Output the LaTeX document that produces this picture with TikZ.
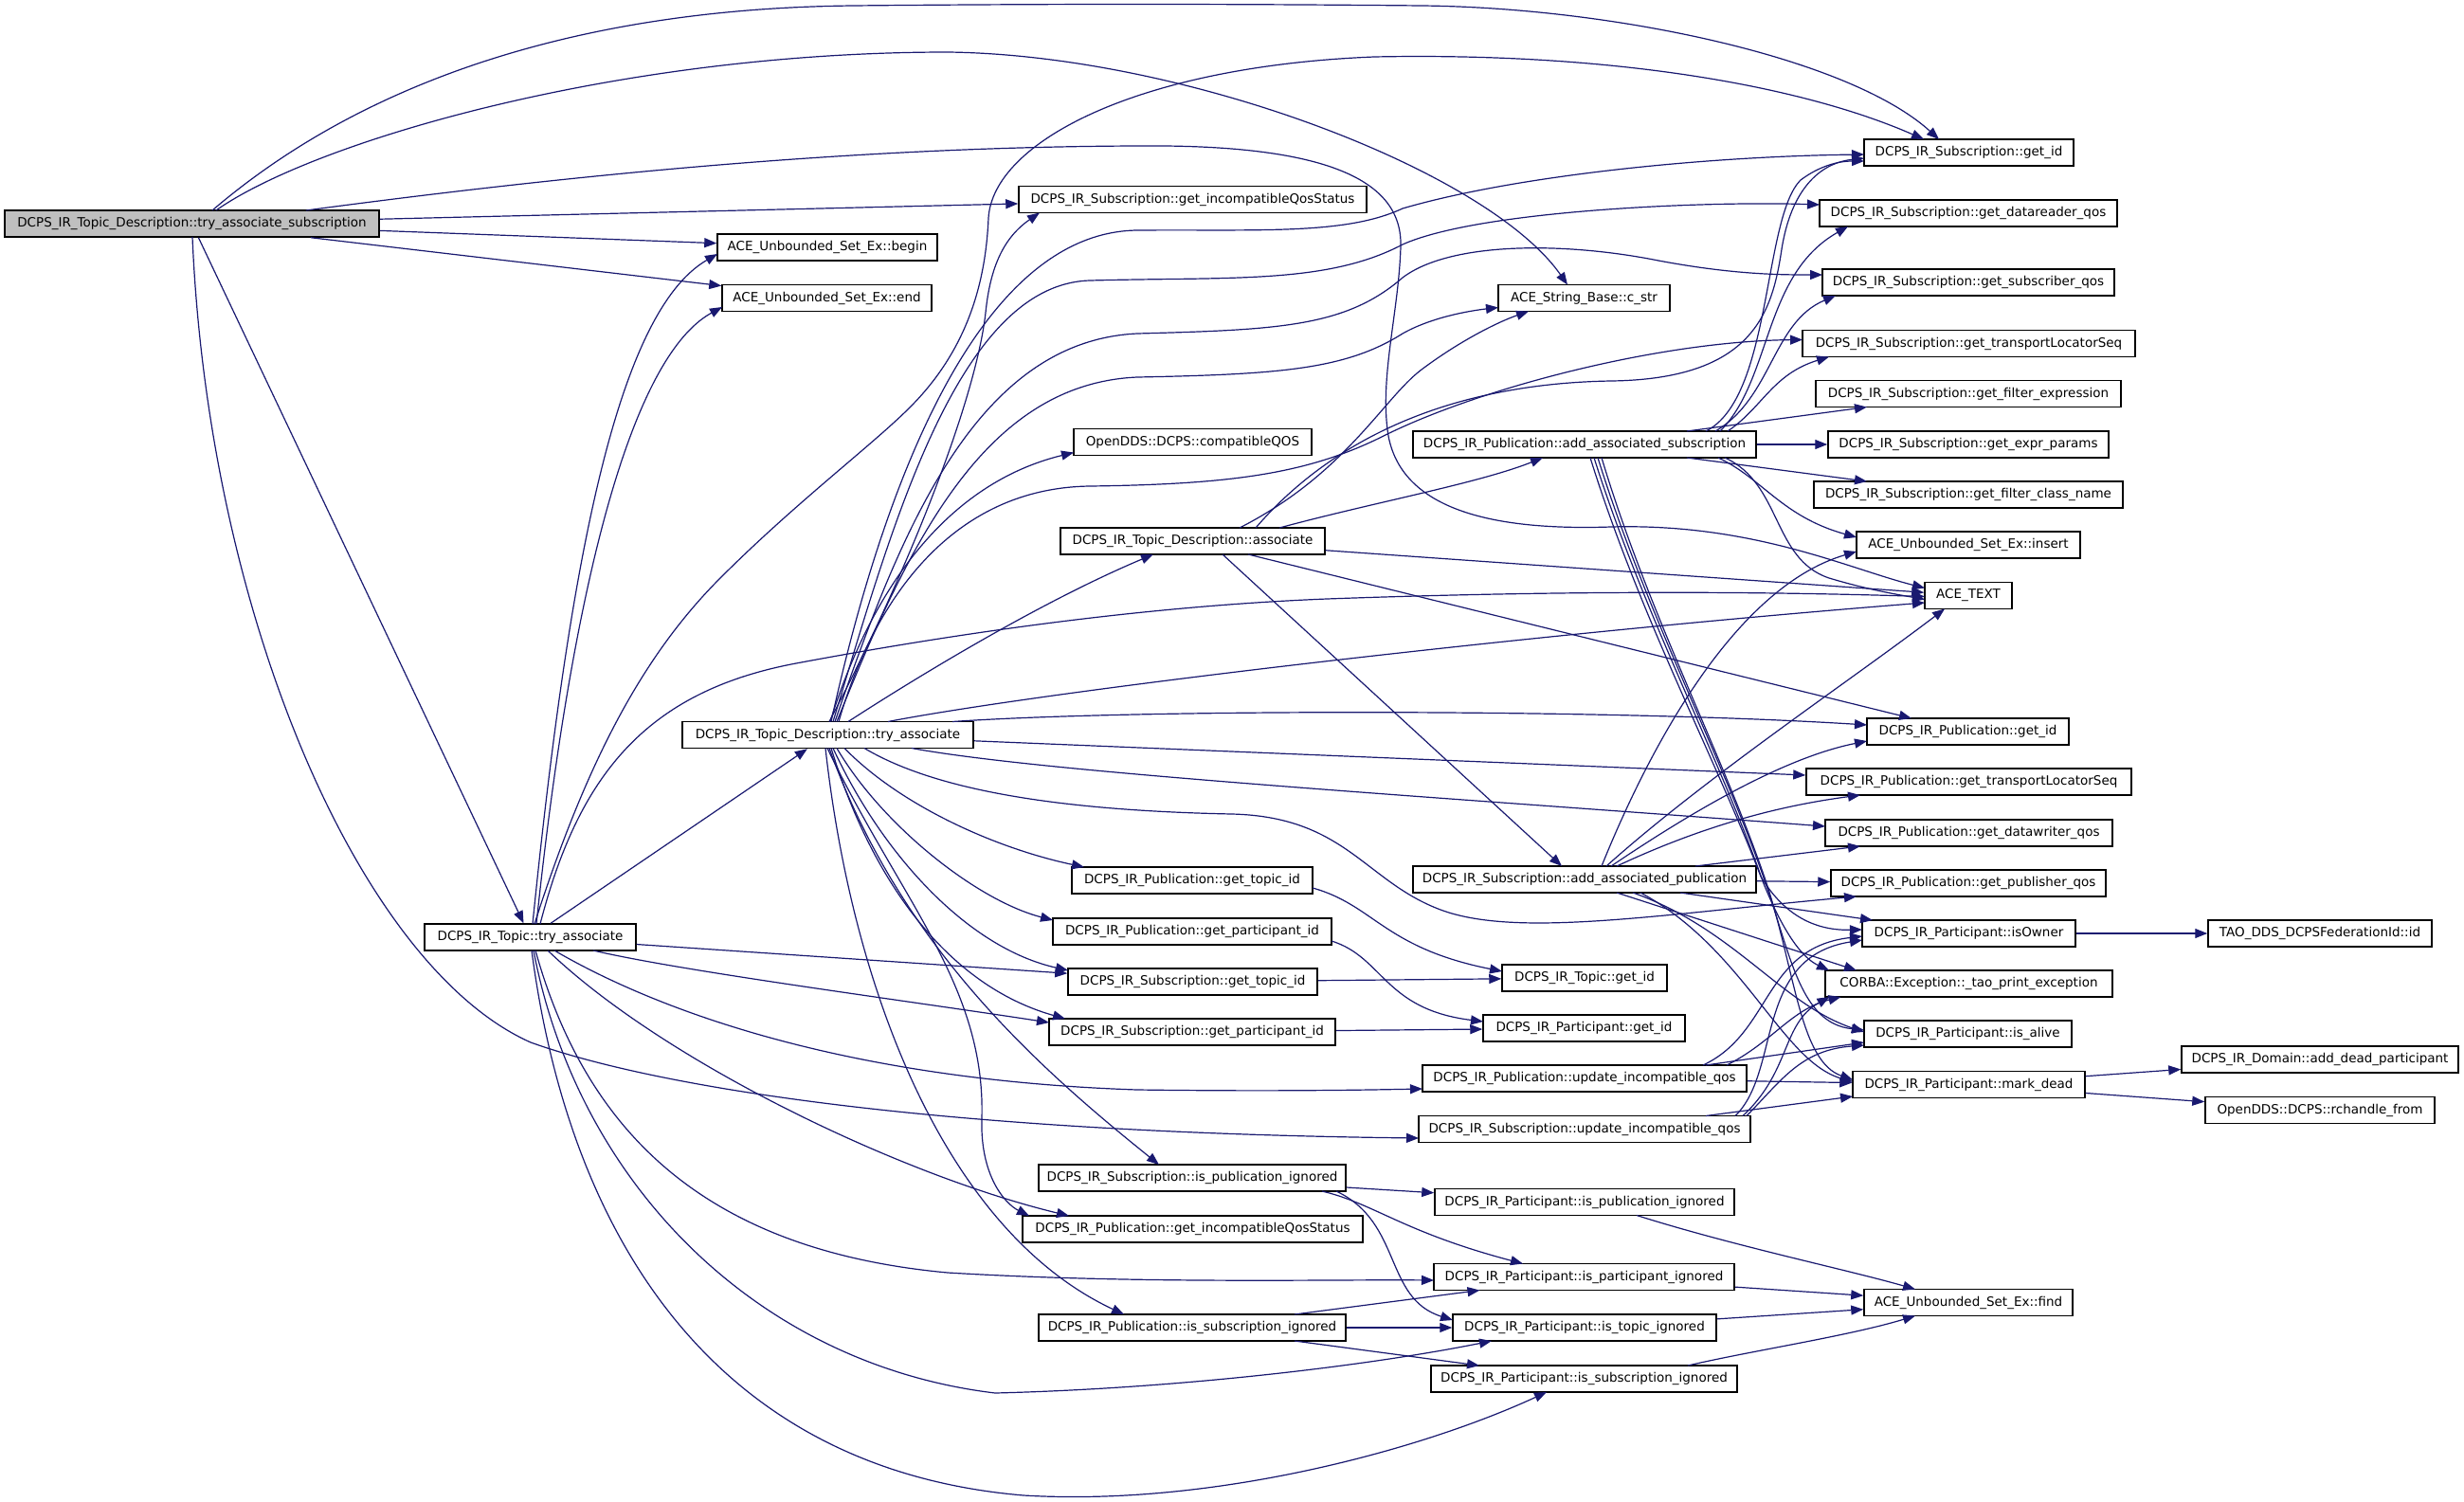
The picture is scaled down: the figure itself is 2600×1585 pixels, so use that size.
\documentclass[tikz,border=0pt]{standalone}
\usepackage{fontspec}
\setmainfont{DejaVu Sans}
\usetikzlibrary{arrows.meta,calc}
\definecolor{edgec}{HTML}{191970}
\definecolor{rootc}{HTML}{BFBFBF}
\tikzset{
  box/.style={draw=black, line width=1.5pt, fill=white, minimum height=28pt, inner sep=0pt, font=\fontsize{13.5}{16}\selectfont},
  edge/.style={draw=edgec, line width=1.2pt, line join=round, -{Triangle[length=13pt,width=10pt]}}
}
\begin{document}
\begin{tikzpicture}[x=1pt,y=-1pt]
\useasboundingbox (0,0) rectangle (2600,1585);
\fill[white] (0,0) rectangle (2600,1585);
% nodes
\node[box,fill=rootc,minimum width=395pt] (R) at (202.5,236) {DCPS\_IR\_Topic\_Description::try\_associate\_subscription};
\node[box,minimum width=367pt] (SGIQ) at (1258.5,210.5) {DCPS\_IR\_Subscription::get\_incompatibleQosStatus};
\node[box,minimum width=232pt] (BEGIN) at (873,261) {ACE\_Unbounded\_Set\_Ex::begin};
\node[box,minimum width=221pt] (END) at (872.5,314.5) {ACE\_Unbounded\_Set\_Ex::end};
\node[box,minimum width=221pt] (SGID) at (2077.5,161) {DCPS\_IR\_Subscription::get\_id};
\node[box,minimum width=314pt] (SDRQ) at (2077,225) {DCPS\_IR\_Subscription::get\_datareader\_qos};
\node[box,minimum width=308pt] (SSQ) at (2077,298) {DCPS\_IR\_Subscription::get\_subscriber\_qos};
\node[box,minimum width=181pt] (CSTR) at (1671.5,314.5) {ACE\_String\_Base::c\_str};
\node[box,minimum width=351pt] (STLS) at (2077.5,362.5) {DCPS\_IR\_Subscription::get\_transportLocatorSeq};
\node[box,minimum width=322pt] (SFE) at (2077,415.5) {DCPS\_IR\_Subscription::get\_filter\_expression};
\node[box,minimum width=362pt] (AS) at (1672,469) {DCPS\_IR\_Publication::add\_associated\_subscription};
\node[box,minimum width=296pt] (SEP) at (2077,469) {DCPS\_IR\_Subscription::get\_expr\_params};
\node[box,minimum width=251pt] (CQ) at (1258.5,466.5) {OpenDDS::DCPS::compatibleQOS};
\node[box,minimum width=326pt] (SFCN) at (2077,522) {DCPS\_IR\_Subscription::get\_filter\_class\_name};
\node[box,minimum width=279pt] (AC) at (1258.5,571) {DCPS\_IR\_Topic\_Description::associate};
\node[box,minimum width=236pt] (INS) at (2077,575) {ACE\_Unbounded\_Set\_Ex::insert};
\node[box,minimum width=92pt] (TEXT) at (2077,628.5) {ACE\_TEXT};
\node[box,minimum width=307pt] (TA) at (873.5,775.5) {DCPS\_IR\_Topic\_Description::try\_associate};
\node[box,minimum width=213pt] (PGID) at (2076.5,772) {DCPS\_IR\_Publication::get\_id};
\node[box,minimum width=343pt] (PTLS) at (2077.5,825) {DCPS\_IR\_Publication::get\_transportLocatorSeq};
\node[box,minimum width=303pt] (PDWQ) at (2077.5,879) {DCPS\_IR\_Publication::get\_datawriter\_qos};
\node[box,minimum width=362pt] (AP) at (1672,928) {DCPS\_IR\_Subscription::add\_associated\_publication};
\node[box,minimum width=254pt] (PGTI) at (1258,929) {DCPS\_IR\_Publication::get\_topic\_id};
\node[box,minimum width=290pt] (PPQ) at (2077,932) {DCPS\_IR\_Publication::get\_publisher\_qos};
\node[box,minimum width=294pt] (PGPI) at (1258,983) {DCPS\_IR\_Publication::get\_participant\_id};
\node[box,minimum width=223pt] (T) at (559.5,989) {DCPS\_IR\_Topic::try\_associate};
\node[box,minimum width=225pt] (ISOWN) at (2077.5,985) {DCPS\_IR\_Participant::isOwner};
\node[box,minimum width=236pt] (TAO) at (2448,985) {TAO\_DDS\_DCPSFederationId::id};
\node[box,minimum width=263pt] (SGTI) at (1258.5,1036) {DCPS\_IR\_Subscription::get\_topic\_id};
\node[box,minimum width=174pt] (TGID) at (1672,1032) {DCPS\_IR\_Topic::get\_id};
\node[box,minimum width=303pt] (CORBA) at (2077.5,1038) {CORBA::Exception::\_tao\_print\_exception};
\node[box,minimum width=302pt] (SGPI) at (1258,1089) {DCPS\_IR\_Subscription::get\_participant\_id};
\node[box,minimum width=213pt] (PAGID) at (1671.5,1085) {DCPS\_IR\_Participant::get\_id};
\node[box,minimum width=219pt] (ALIVE) at (2076.5,1091) {DCPS\_IR\_Participant::is\_alive};
\node[box,minimum width=292pt] (DEADP) at (2448,1118) {DCPS\_IR\_Domain::add\_dead\_participant};
\node[box,minimum width=342pt] (PU) at (1672,1138) {DCPS\_IR\_Publication::update\_incompatible\_qos};
\node[box,minimum width=245pt] (MD) at (2077.5,1144.5) {DCPS\_IR\_Participant::mark\_dead};
\node[box,minimum width=242pt] (RCH) at (2448,1171.5) {OpenDDS::DCPS::rchandle\_from};
\node[box,minimum width=350pt] (SU) at (1672,1191.5) {DCPS\_IR\_Subscription::update\_incompatible\_qos};
\node[box,minimum width=324pt] (SPI) at (1258,1243) {DCPS\_IR\_Subscription::is\_publication\_ignored};
\node[box,minimum width=316pt] (PAPI) at (1672,1268.5) {DCPS\_IR\_Participant::is\_publication\_ignored};
\node[box,minimum width=359pt] (PGIQ) at (1258.5,1297) {DCPS\_IR\_Publication::get\_incompatibleQosStatus};
\node[box,minimum width=317pt] (PAPAI) at (1671.5,1347.5) {DCPS\_IR\_Participant::is\_participant\_ignored};
\node[box,minimum width=220pt] (FIND) at (2077,1374.5) {ACE\_Unbounded\_Set\_Ex::find};
\node[box,minimum width=324pt] (PSI) at (1258,1401) {DCPS\_IR\_Publication::is\_subscription\_ignored};
\node[box,minimum width=278pt] (PATI) at (1672,1401) {DCPS\_IR\_Participant::is\_topic\_ignored};
\node[box,minimum width=323pt] (PASI) at (1671.5,1455) {DCPS\_IR\_Participant::is\_subscription\_ignored};
% edges from root
\draw[edge] ($(R)+(21.5,-14)$) .. controls (320,140) and (520,10) .. (900,6) .. controls (1100,4) and (1300,4) .. (1500,6) .. controls (1700,8) and (1950,60) .. ($(SGID)+(-31.5,-14)$);
\draw[edge] ($(R)+(25.5,-14)$) .. controls (330,150) and (650,55) .. (1000,55) .. controls (1250,58) and (1570,180) .. ($(CSTR)+(-17.5,-14)$);
\draw[edge] ($(R)+(120.5,-14)$) .. controls (600,185) and (900,155) .. (1200,154) .. controls (1400,152) and (1480,190) .. (1478,260) .. controls (1476,330) and (1455,400) .. (1465,460) .. controls (1480,540) and (1580,560) .. (1700,556) .. controls (1850,552) and (1950,600) .. ($(TEXT)+(-46,-8)$);
\draw[edge] (R) -- (SGIQ);
\draw[edge] (R) -- (BEGIN);
\draw[edge] (R) -- (END);
\draw[edge] (R) -- (T);
\draw[edge] ($(R)+(0.5,14)$) .. controls (220,650) and (380,1020) .. (560,1100) .. controls (700,1150) and (1000,1195) .. ($(SU)+(-175,9.5)$);
% edges from Topic::try_associate
\draw[edge] (T) -- (TA);
\draw[edge] ($(T)+(2.5,-14)$) .. controls (600,600) and (650,330) .. ($(BEGIN)+(-116,7)$);
\draw[edge] ($(T)+(6.5,-14)$) .. controls (600,650) and (660,380) .. ($(END)+(-110.5,9.5)$);
\draw[edge] ($(T)+(10.5,-14)$) .. controls (610,820) and (680,730) .. (840,700) .. controls (1000,670) and (1200,640) .. (1400,632) .. controls (1650,623) and (1850,624) .. ($(TEXT)+(-46,1)$);
\draw[edge] ($(T)+(4.5,-14)$) .. controls (620,800) and (680,690) .. (760,610) .. controls (840,530) and (920,470) .. (960,430) .. controls (1020,370) and (1040,300) .. (1043,230) .. controls (1048,150) and (1200,70) .. (1450,60) .. controls (1700,55) and (1900,90) .. ($(SGID)+(-47.5,-14)$);
\draw[edge] ($(T)+(25.5,14)$) .. controls (700,1070) and (900,1140) .. (1200,1150) .. controls (1350,1152) and (1450,1150) .. ($(PU)+(-171,11)$);
\draw[edge] (T) -- (SGTI);
\draw[edge] ($(T)+(66.5,14)$) .. controls (720,1025) and (950,1055) .. ($(SGPI)+(-151,-10)$);
\draw[edge] ($(T)+(18.5,14)$) .. controls (700,1120) and (950,1240) .. ($(PGIQ)+(-130.5,-14)$);
\draw[edge] ($(T)+(5.5,14)$) .. controls (620,1200) and (750,1320) .. (1000,1343) .. controls (1200,1355) and (1400,1350) .. ($(PAPAI)+(-158.5,3.5)$);
\draw[edge] ($(T)+(3.5,14)$) .. controls (610,1250) and (800,1440) .. (1050,1470) .. controls (1250,1465) and (1450,1440) .. ($(PATI)+(-98,14)$);
\draw[edge] ($(T)+(1.5,14)$) .. controls (600,1300) and (750,1550) .. (1080,1578) .. controls (1280,1590) and (1500,1530) .. ($(PASI)+(-39.5,14)$);
% edges from TopicDescription::try_associate
\draw[edge] ($(TA)+(1.5,-14)$) .. controls (960,600) and (1030,420) .. (1040,330) .. controls (1045,280) and (1060,250) .. ($(SGIQ)+(-161.5,14)$);
\draw[edge] ($(TA)+(3.5,-14)$) .. controls (930,520) and (1030,245) .. (1200,243) .. controls (1330,242) and (1420,248) .. (1480,220) .. controls (1600,185) and (1800,165) .. ($(SGID)+(-110.5,2)$);
\draw[edge] ($(TA)+(5.5,-14)$) .. controls (940,560) and (1010,300) .. (1150,296) .. controls (1300,292) and (1400,300) .. (1480,258) .. controls (1560,222) and (1800,212) .. ($(SDRQ)+(-157,-9)$);
\draw[edge] ($(TA)+(7.5,-14)$) .. controls (950,560) and (1030,360) .. (1200,352) .. controls (1350,348) and (1420,345) .. (1480,293) .. controls (1530,255) and (1650,255) .. (1750,275) .. controls (1830,290) and (1880,290) .. ($(SSQ)+(-154,-8)$);
\draw[edge] ($(TA)+(9.5,-14)$) .. controls (960,570) and (1040,405) .. (1200,398) .. controls (1350,395) and (1420,390) .. (1480,352) .. controls (1510,335) and (1550,328) .. ($(CSTR)+(-90.5,10)$);
\draw[edge] ($(TA)+(11.5,-14)$) .. controls (920,640) and (1000,515) .. (1150,513) .. controls (1300,511) and (1380,500) .. (1460,460) .. controls (1560,410) and (1750,360) .. ($(STLS)+(-175.5,-4)$);
\draw[edge] ($(TA)+(2.5,-14)$) .. controls (920,620) and (1000,510) .. ($(CQ)+(-125.5,11)$);
\draw[edge] ($(TA)+(21.5,-14)$) .. controls (990,700) and (1110,630) .. ($(AC)+(-41.5,14)$);
\draw[edge] ($(TA)+(63.5,-14)$) .. controls (1100,730) and (1600,670) .. ($(TEXT)+(-46,7.5)$);
\draw[edge] ($(TA)+(131.5,-14)$) .. controls (1200,748) and (1700,748) .. ($(PGID)+(-106.5,-7)$);
\draw[edge] (TA) -- (PTLS);
\draw[edge] ($(TA)+(88.5,14)$) .. controls (1100,815) and (1500,840) .. ($(PDWQ)+(-151.5,-7)$);
\draw[edge] ($(TA)+(38.5,14)$) .. controls (980,830) and (1100,855) .. (1300,859) .. controls (1420,862) and (1440,930) .. (1520,960) .. controls (1600,990) and (1750,965) .. ($(PPQ)+(-118,14)$);
\draw[edge] ($(TA)+(17.5,14)$) .. controls (950,850) and (1050,895) .. ($(PGTI)+(-114,-14)$);
\draw[edge] ($(TA)+(9.5,14)$) .. controls (930,870) and (1030,950) .. ($(PGPI)+(-147,-12)$);
\draw[edge] ($(TA)+(5.5,14)$) .. controls (930,900) and (1020,1000) .. ($(SGTI)+(-131.5,-12)$);
\draw[edge] ($(TA)+(3.5,14)$) .. controls (920,930) and (1000,1040) .. ($(SGPI)+(-134,-14)$);
\draw[edge] ($(TA)+(1.5,14)$) .. controls (950,1000) and (1100,1130) .. ($(SPI)+(-35,-14)$);
\draw[edge] ($(TA)+(-0.5,14)$) .. controls (950,950) and (1040,1040) .. (1036,1180) .. controls (1034,1240) and (1060,1270) .. ($(PGIQ)+(-172.5,-14)$);
\draw[edge] ($(TA)+(-2.5,14)$) .. controls (900,1050) and (1000,1300) .. ($(PSI)+(-72,-14)$);
% edges from associate
\draw[edge] ($(AC)+(49.5,-14)$) .. controls (1420,500) and (1460,420) .. (1500,390) .. controls (1540,360) and (1580,340) .. ($(CSTR)+(-58.5,14)$);
\draw[edge] ($(AC)+(66.5,-14)$) .. controls (1400,470) and (1520,405) .. (1700,402) .. controls (1850,400) and (1870,330) .. (1880,263) .. controls (1890,200) and (1920,172) .. ($(SGID)+(-110.5,6)$);
\draw[edge] ($(AC)+(91.5,-14)$) .. controls (1450,530) and (1560,510) .. ($(AS)+(-44,14)$);
\draw[edge] (AC) -- (TEXT);
\draw[edge] ($(AC)+(58.5,14)$) -- ($(PGID)+(-59.5,-14)$);
\draw[edge] ($(AC)+(31.5,14)$) -- ($(AP)+(-24,-14)$);
% edges from add_associated_subscription
\draw[edge] ($(AS)+(128,-14)$) .. controls (1870,420) and (1860,230) .. (1900,190) .. controls (1920,175) and (1940,170) .. ($(SGID)+(-110.5,9)$);
\draw[edge] ($(AS)+(143,-14)$) .. controls (1870,400) and (1860,290) .. ($(SDRQ)+(-127,14)$);
\draw[edge] ($(AS)+(138,-14)$) .. controls (1870,420) and (1870,340) .. ($(SSQ)+(-140,14)$);
\draw[edge] ($(AS)+(151,-14)$) .. controls (1860,430) and (1870,395) .. ($(STLS)+(-147.5,14)$);
\draw[edge] ($(AS)+(108,-14)$) -- ($(SFE)+(-107,14)$);
\draw[edge] (AS) -- (SEP);
\draw[edge] ($(AS)+(108,14)$) -- ($(SFCN)+(-107,-14)$);
\draw[edge] ($(AS)+(141,14)$) .. controls (1860,505) and (1880,545) .. ($(INS)+(-118,-8)$);
\draw[edge] ($(AS)+(148,14)$) .. controls (1880,510) and (1870,590) .. (1930,610) .. controls (1970,622) and (2000,627) .. ($(TEXT)+(-46,4)$);
\draw[edge] ($(AS)+(6,14)$) .. controls (1730,650) and (1810,800) .. (1858,925) .. controls (1885,970) and (1920,982) .. ($(ISOWN)+(-112.5,-4)$);
\draw[edge] ($(AS)+(10,14)$) .. controls (1735,650) and (1815,800) .. (1860,930) .. controls (1880,980) and (1900,1010) .. ($(CORBA)+(-147.5,-14)$);
\draw[edge] ($(AS)+(14,14)$) .. controls (1738,650) and (1818,800) .. (1863,932) .. controls (1890,1010) and (1900,1080) .. ($(ALIVE)+(-109.5,-4)$);
\draw[edge] ($(AS)+(18,14)$) .. controls (1740,650) and (1820,800) .. (1865,935) .. controls (1895,1030) and (1900,1120) .. ($(MD)+(-122.5,-5)$);
% edges from add_associated_publication
\draw[edge] ($(AP)+(18,-14)$) .. controls (1740,790) and (1830,620) .. ($(INS)+(-118,7)$);
\draw[edge] ($(AP)+(23,-14)$) .. controls (1800,820) and (1950,720) .. ($(TEXT)+(-25,14)$);
\draw[edge] ($(AP)+(28,-14)$) .. controls (1780,860) and (1880,800) .. ($(PGID)+(-106.5,10)$);
\draw[edge] ($(AP)+(34,-14)$) .. controls (1800,870) and (1880,850) .. ($(PTLS)+(-114.5,14)$);
\draw[edge] ($(AP)+(117,-14)$) -- ($(PDWQ)+(-114.5,14)$);
\draw[edge] (AP) -- (PPQ);
\draw[edge] ($(AP)+(101,14)$) -- ($(ISOWN)+(-101.5,-14)$);
\draw[edge] ($(AP)+(34,14)$) -- ($(CORBA)+(-118.5,-14)$);
\draw[edge] ($(AP)+(51,14)$) .. controls (1830,980) and (1880,1060) .. ($(ALIVE)+(-109.5,-2)$);
\draw[edge] ($(AP)+(59,14)$) .. controls (1840,1000) and (1880,1120) .. ($(MD)+(-122.5,-3)$);
% update_incompatible_qos
\draw[edge] ($(PU)+(125,-14)$) .. controls (1870,1090) and (1860,1000) .. ($(ISOWN)+(-112.5,3)$);
\draw[edge] ($(PU)+(150,-14)$) .. controls (1870,1100) and (1890,1065) .. ($(CORBA)+(-135,14)$);
\draw[edge] ($(PU)+(128,-14)$) -- ($(ALIVE)+(-109.5,9)$);
\draw[edge] (PU) -- (MD);
\draw[edge] ($(SU)+(159,-14)$) .. controls (1880,1130) and (1850,1010) .. ($(ISOWN)+(-112.5,7)$);
\draw[edge] ($(SU)+(167,-14)$) .. controls (1890,1130) and (1880,1080) .. ($(CORBA)+(-147,14)$);
\draw[edge] ($(SU)+(171,-14)$) .. controls (1880,1140) and (1900,1108) .. ($(ALIVE)+(-109.5,12)$);
\draw[edge] ($(SU)+(128,-14)$) -- ($(MD)+(-122.5,12.5)$);
% others
\draw[edge] (ISOWN) -- (TAO);
\draw[edge] (MD) -- (DEADP);
\draw[edge] (MD) -- (RCH);
\draw[edge] ($(PGTI)+(127,8)$) .. controls (1450,955) and (1460,1000) .. ($(TGID)+(-87,-7)$);
\draw[edge] (SGTI) -- (TGID);
\draw[edge] ($(PGPI)+(147,10)$) .. controls (1460,1010) and (1460,1065) .. ($(PAGID)+(-106.5,-7)$);
\draw[edge] (SGPI) -- (PAGID);
\draw[edge] (SPI) -- (PAPI);
\draw[edge] ($(SPI)+(137,14)$) .. controls (1450,1270) and (1480,1300) .. ($(PAPAI)+(-64.5,-14)$);
\draw[edge] ($(SPI)+(152,14)$) .. controls (1480,1290) and (1460,1370) .. ($(PATI)+(-139,-8)$);
\draw[edge] ($(PSI)+(108,-14)$) -- ($(PAPAI)+(-110,14)$);
\draw[edge] (PSI) -- (PATI);
\draw[edge] ($(PSI)+(108,14)$) -- ($(PASI)+(-110.5,-14)$);
\draw[edge] ($(PAPI)+(55,14)$) .. controls (1830,1315) and (1950,1340) .. ($(FIND)+(-56,-14)$);
\draw[edge] (PAPAI) -- (FIND);
\draw[edge] (PATI) -- (FIND);
\draw[edge] ($(PASI)+(109.5,-14)$) .. controls (1850,1425) and (1950,1410) .. ($(FIND)+(-56,14)$);
\end{tikzpicture}
\end{document}
